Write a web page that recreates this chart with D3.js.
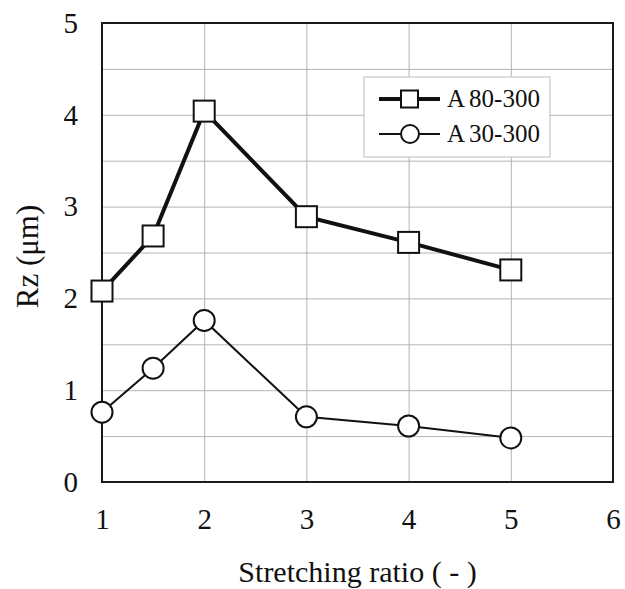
<!DOCTYPE html>
<html>
<head>
<meta charset="utf-8">
<script src="https://cdn.jsdelivr.net/npm/d3@7"></script>
<style>
  body { margin: 0; background: #fff; }
  svg { font-family: "Liberation Serif", "Times New Roman", serif; }
  .grid line { stroke: #b4b4b4; stroke-width: 1; }
  .grid path { display: none; }
  .axis path { display: none; }
  .axis text { font-size: 29px; fill: #111; }
</style>
</head>
<body>
<div class="chart"></div>
<script>
// data
var ratio = [1, 1.5, 2, 3, 4, 5]
var a80 = [2.08, 2.68, 4.04, 2.89, 2.61, 2.31]
var a30 = [0.76, 1.24, 1.76, 0.71, 0.61, 0.48]
var seriesNames = ["A80-300", "A30-300"]
var xTicks = [1, 2, 3, 4, 5, 6]
var yTicks = [0, 1, 2, 3, 4, 5]
var yGrid = [0.5, 1, 1.5, 2, 2.5, 3, 3.5, 4, 4.5]

let svg = d3.select('div.chart').append('svg')
  .attr('width', 625)
  .attr('height', 589)

let pLeft = 102, pRight = 613, pTop = 23, pBottom = 482

let x = d3.scaleLinear().domain([1, 6]).range([pLeft, pRight])
let y = d3.scaleLinear().domain([0, 5]).range([pBottom, pTop])

//grid
svg.append('g')
  .attr('class', 'grid')
  .attr('transform', 'translate(' + pLeft + ',0)')
  .call(d3.axisLeft(y).tickValues(yGrid).tickSize(-(pRight - pLeft)).tickFormat(''))

svg.append('g')
  .attr('class', 'grid')
  .attr('transform', 'translate(0,' + pBottom + ')')
  .call(d3.axisBottom(x).tickValues([2, 3, 4, 5]).tickSize(-(pBottom - pTop)).tickFormat(''))

//frame
svg.append('rect')
  .attr('x', pLeft).attr('y', pTop)
  .attr('width', pRight - pLeft).attr('height', pBottom - pTop)
  .attr('fill', 'none')
  .attr('stroke', '#1a1a1a')
  .attr('stroke-width', 2)

//axes
svg.append('g')
  .attr('class', 'axis')
  .attr('transform', 'translate(' + pLeft + ',0)')
  .call(d3.axisLeft(y).tickValues(yTicks).tickSize(0).tickPadding(24).tickFormat(d3.format('d')))
  .attr('font-family', null)
  .attr('font-size', null)

svg.append('g')
  .attr('class', 'axis')
  .attr('transform', 'translate(0,' + pBottom + ')')
  .call(d3.axisBottom(x).tickValues(xTicks).tickSize(0).tickPadding(26).tickFormat(d3.format('d')))
  .attr('font-family', null)
  .attr('font-size', null)

svg.append('text')
  .attr('x', (pLeft + pRight) / 2)
  .attr('y', 582)
  .attr('text-anchor', 'middle')
  .attr('font-size', 30)
  .attr('fill', '#111')
  .text('Stretching ratio ( - )')

svg.append('text')
  .attr('transform', 'translate(38,' + ((pTop + pBottom) / 2 + 4) + ') rotate(-90)')
  .attr('text-anchor', 'middle')
  .attr('font-size', 31)
  .attr('fill', '#111')
  .text('Rz (μm)')

//lines
let line = d3.line()
  .x((d, i) => x(ratio[i]))
  .y(d => y(d))

svg.append('path')
  .datum(a30)
  .attr('d', line)
  .attr('fill', 'none')
  .attr('stroke', '#111')
  .attr('stroke-width', 2)

svg.append('path')
  .datum(a80)
  .attr('d', line)
  .attr('fill', 'none')
  .attr('stroke', '#111')
  .attr('stroke-width', 4)

//markers
svg.append('g')
  .selectAll('circle')
  .data(a30)
  .enter()
  .append('circle')
  .attr('cx', (d, i) => x(ratio[i]))
  .attr('cy', d => y(d))
  .attr('r', 10.5)
  .attr('fill', '#fff')
  .attr('stroke', '#111')
  .attr('stroke-width', 2)

svg.append('g')
  .selectAll('rect')
  .data(a80)
  .enter()
  .append('rect')
  .attr('x', (d, i) => x(ratio[i]) - 10.5)
  .attr('y', d => y(d) - 10.5)
  .attr('width', 21)
  .attr('height', 21)
  .attr('fill', '#fff')
  .attr('stroke', '#111')
  .attr('stroke-width', 2)

//legend
let lg = svg.append('g').attr('transform', 'translate(364,77)')

lg.append('rect')
  .attr('width', 186).attr('height', 80)
  .attr('fill', '#fff')
  .attr('stroke', '#bdbdbd')
  .attr('stroke-width', 1)

lg.append('line')
  .attr('x1', 15).attr('x2', 76).attr('y1', 22).attr('y2', 22)
  .attr('stroke', '#111').attr('stroke-width', 4)
lg.append('rect')
  .attr('x', 37).attr('y', 13.5).attr('width', 17).attr('height', 17)
  .attr('fill', '#fff').attr('stroke', '#111').attr('stroke-width', 2)

lg.append('line')
  .attr('x1', 15).attr('x2', 76).attr('y1', 57).attr('y2', 57)
  .attr('stroke', '#111').attr('stroke-width', 2)
lg.append('circle')
  .attr('cx', 46).attr('cy', 57).attr('r', 9)
  .attr('fill', '#fff').attr('stroke', '#111').attr('stroke-width', 2)

seriesNames.forEach((s, i) => {
  let t = lg.append('text')
    .attr('x', 83)
    .attr('y', 30 + i * 35)
    .attr('font-size', 25)
    .attr('fill', '#111')
  t.append('tspan').text(s.slice(0, 1))
  t.append('tspan').attr('dx', 4).text(s.slice(1))
})
</script>
</body>
</html>
